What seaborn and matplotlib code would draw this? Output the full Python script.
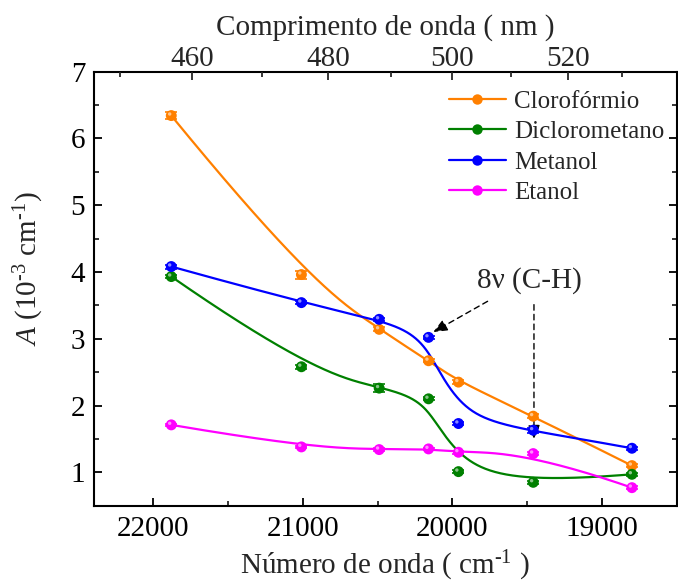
import numpy as np
import pandas as pd
import matplotlib
matplotlib.use("Agg")
import matplotlib.pyplot as plt
import matplotlib.transforms as mtransforms
from matplotlib.lines import Line2D
import seaborn as sns

# Wavenumbers of the excitation lines (cm^-1)
wavenumber = [21880, 21010, 20490, 20160, 19960, 19460, 18800]

# Absorption coefficient A (10^-3 cm^-1) per solvent
clorofórmio = [6.34, 3.96, 3.14, 2.67, 2.35, 1.84, 1.10]
diclorometano = [3.93, 2.58, 2.26, 2.10, 1.01, 0.85, 0.97]
metanol = [4.08, 3.54, 3.29, 3.02, 1.73, 1.63, 1.36]
etanol = [1.71, 1.38, 1.34, 1.35, 1.30, 1.28, 0.77]

# Measurement uncertainties
err_clorofórmio = [0.05, 0.06, 0.03, 0.02, 0.03, 0.03, 0.02]
err_diclorometano = [0.02, 0.03, 0.06, 0.02, 0.02, 0.02, 0.02]
err_metanol = [0.03, 0.02, 0.02, 0.02, 0.02, 0.04, 0.02]
err_etanol = [0.02, 0.02, 0.02, 0.02, 0.02, 0.02, 0.02]

solvents = ["Clorofórmio", "Diclorometano", "Metanol", "Etanol"]
colors = ["#FF8000", "#008000", "#0000FF", "#FF00FF"]

top_major_nm = [460, 480, 500, 520]
top_minor_nm = [450, 470, 490, 510, 530]
bottom_ticks = [22000, 21000, 20000, 19000]

sns.set_theme(style="ticks")
plt.rcParams["font.family"] = ["Liberation Serif", "DejaVu Serif"]
plt.rcParams["mathtext.fontset"] = "custom"
plt.rcParams["mathtext.rm"] = "Liberation Serif"
plt.rcParams["mathtext.it"] = "Liberation Serif:italic"
plt.rcParams["axes.linewidth"] = 1.5
plt.rcParams["xtick.direction"] = "in"
plt.rcParams["ytick.direction"] = "in"


def bspline(px, py, degree=3, n=400):
    """Clamped uniform B-spline using the points as control polygon."""
    P = np.column_stack([px, py]).astype(float)
    m = len(P)
    k = degree
    knots = np.concatenate([np.zeros(k), np.linspace(0, 1, m - k + 1), np.ones(k)])
    t = np.linspace(0, 1, n)
    t[-1] = 1 - 1e-12
    N = np.zeros((n, len(knots) - 1))
    for i in range(len(knots) - 1):
        N[:, i] = (knots[i] <= t) & (t < knots[i + 1])
    for p in range(1, k + 1):
        Nn = np.zeros((n, len(knots) - 1 - p))
        for i in range(len(knots) - 1 - p):
            d1 = knots[i + p] - knots[i]
            d2 = knots[i + p + 1] - knots[i + 1]
            a = (t - knots[i]) / d1 * N[:, i] if d1 > 0 else 0.0
            b = (knots[i + p + 1] - t) / d2 * N[:, i + 1] if d2 > 0 else 0.0
            Nn[:, i] = a + b
        N = Nn
    C = N @ P
    return C[:, 0], C[:, 1]


series = {
    "Clorofórmio": (clorofórmio, err_clorofórmio),
    "Diclorometano": (diclorometano, err_diclorometano),
    "Metanol": (metanol, err_metanol),
    "Etanol": (etanol, err_etanol),
}

points = pd.DataFrame(
    [(w, v, name) for name, (vals, _) in series.items() for w, v in zip(wavenumber, vals)],
    columns=["wavenumber", "A", "solvent"],
)

curve_rows = []
for name, (vals, _) in series.items():
    cx, cy = bspline(wavenumber, vals)
    curve_rows += [(x, y, name) for x, y in zip(cx, cy)]
curves = pd.DataFrame(curve_rows, columns=["wavenumber", "A", "solvent"])

W, H = 678, 583
fig = plt.figure(figsize=(W / 100, H / 100), dpi=100)
left, right, top, bottom = 93.5, 676.8, 71.5, 505.7
ax = fig.add_axes([left / W, 1 - bottom / H, (right - left) / W, (bottom - top) / H])

palette = dict(zip(solvents, colors))

sns.lineplot(data=curves, x="wavenumber", y="A", hue="solvent", palette=palette,
             sort=False, estimator=None, linewidth=1.6, legend=False, ax=ax, zorder=2)

for name, color in zip(solvents, colors):
    vals, errs = series[name]
    ax.errorbar(wavenumber, vals, yerr=errs, fmt="none", ecolor=color,
                elinewidth=1.2, capsize=4, capthick=1.2, zorder=3)

sns.scatterplot(data=points, x="wavenumber", y="A", hue="solvent", palette=palette,
                s=62, edgecolor="none", legend=False, ax=ax, zorder=4)

# Light spot on each ball marker
shine = mtransforms.offset_copy(ax.transData, fig=fig, x=-1.6, y=1.6, units="dots")
ax.scatter(points["wavenumber"], points["A"], s=6, color="white", alpha=0.55,
           edgecolor="none", transform=shine, zorder=5)

ax.set_xlim(22400, 18650)
ax.set_ylim(0.5, 7)
ax.set_xticks(bottom_ticks)
ax.set_xticks([22000 - 500 * i for i in range(0, 8)], minor=True)
ax.set_yticks(range(1, 8))
ax.set_yticks(np.arange(0.5, 7.01, 0.5), minor=True)
ax.tick_params(axis="both", which="major", length=6, width=1.3, labelsize=21,
               colors="black")
ax.tick_params(axis="x", which="major", pad=7.5)
ax.tick_params(axis="y", which="major", pad=6)
ax.tick_params(axis="both", which="minor", length=3.5, width=1.3)
ax.tick_params(axis="y", which="both", right=True, left=True)
ax.tick_params(axis="x", which="both", top=False, bottom=True)
for s in ax.spines.values():
    s.set_visible(True)
    s.set_color("black")
    s.set_linewidth(1.5)

ax.set_xlabel("Número de onda ( cm$^{\u20101}$ )", fontsize=21, labelpad=4.5)
ax.set_ylabel("$\\mathit{A}$ (10$^{\u20103}$ cm$^{\u20101}$)", fontsize=21)
ax.yaxis.set_label_coords(-0.082, 0.547)

# Wavelength scale on top
ax2 = ax.twiny()
ax2.set_xlim(ax.get_xlim())
ax2.set_xticks([1e7 / nm for nm in top_major_nm])
ax2.set_xticklabels([str(nm) for nm in top_major_nm])
ax2.set_xticks([1e7 / nm for nm in top_minor_nm], minor=True)
ax2.tick_params(axis="x", which="major", length=6, width=1.3, labelsize=21, pad=-0.5)
ax2.tick_params(axis="x", which="minor", length=3.5, width=1.3)
ax2.set_xlabel("Comprimento de onda ( nm )", fontsize=21, labelpad=8)
for s in ax2.spines.values():
    s.set_visible(False)

# Annotation for the C-H overtone
ax.text(19489, 3.87, "8ν (C-H)", fontsize=21, ha="center", va="center")
arrow = dict(arrowstyle="-|>,head_length=0.7,head_width=0.3", color="black",
             linestyle=(0, (4, 3)), linewidth=1.0, shrinkA=0, shrinkB=0)
ax.annotate("", xy=(20128, 3.10), xytext=(19765, 3.56), arrowprops=arrow)
ax.annotate("", xy=(19455, 1.50), xytext=(19455, 3.51), arrowprops=arrow)

handles = [Line2D([0], [0], color=c, linewidth=1.6, marker="o", markersize=7.5,
                  markeredgecolor="none") for c in colors]
ax.legend(handles, solvents, loc="upper left", bbox_to_anchor=(0.609, 0.957),
          frameon=False, fontsize=18, handlelength=2.3, handletextpad=0.3,
          labelspacing=0.32, borderpad=0, borderaxespad=0)

fig.savefig("out.png", dpi=100)
